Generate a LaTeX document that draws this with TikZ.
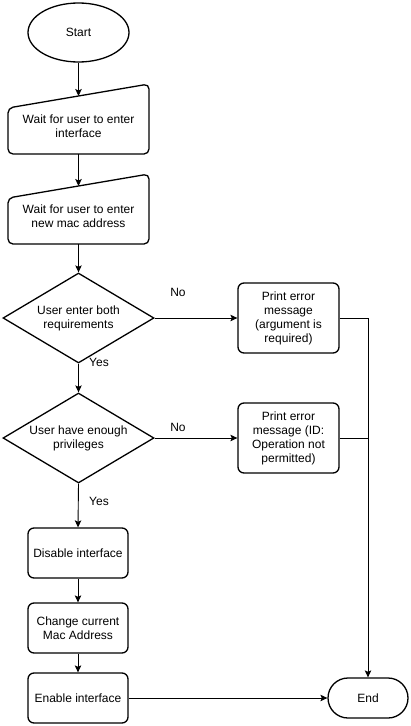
\documentclass[tikz,border=0pt]{standalone}
\usepackage{fontspec}
\setmainfont{Liberation Sans}
\usetikzlibrary{shapes.geometric,arrows.meta}
\begin{document}
\begin{tikzpicture}[x=1pt,y=-1pt,
  font=\fontsize{12}{14}\selectfont,
  shp/.style={draw, line width=1.3pt, align=center, inner sep=0pt},
  proc/.style={shp, rectangle, rounded corners=6pt, minimum width=100pt, minimum height=50pt},
  errbox/.style={shp, rectangle, rounded corners=6pt, minimum width=101pt, minimum height=70pt},
  dec/.style={shp, diamond, minimum width=151pt, minimum height=90pt, aspect=1.68},
  minput/.style={line width=1.3pt, rounded corners=5pt},
  txt/.style={align=center, inner sep=0pt},
  conn/.style={line width=0.9pt, -{Stealth[length=7pt,width=6.5pt,inset=1.5pt]}},
  link/.style={line width=0.9pt}]
\useasboundingbox (0,0) rectangle (411,726);

% Start
\node[shp, ellipse, minimum width=101pt, minimum height=59pt] (start) at (78.5,32.5) {Start};

% Manual input 1
\node[rectangle, minimum width=141pt, minimum height=70pt, inner sep=0pt] (m1) at (78.5,119) {};
\draw[minput] (8,108) -- (149,84) -- (149,154) -- (8,154) -- cycle;
\node[txt] (m1t) at (78.5,126) {Wait for user to enter\\interface};
\coordinate (m1in) at (78.5,96);

% Manual input 2
\node[rectangle, minimum width=141pt, minimum height=70pt, inner sep=0pt] (m2) at (78.5,209) {};
\draw[minput] (8,198) -- (149,174) -- (149,244) -- (8,244) -- cycle;
\node[txt] (m2t) at (78.5,216) {Wait for user to enter\\new mac address};
\coordinate (m2in) at (78.5,186);

% Decisions
\node[dec] (d1) at (78.5,318) {User enter both\\requirements};
\node[dec] (d2) at (78.5,438) {User have enough\\privileges};

% Error boxes
\node[errbox] (e1) at (288.5,318) {Print error\\message\\(argument is\\required)};
\node[errbox] (e2) at (288.5,438) {Print error\\message (ID:\\Operation not\\permitted)};

% Process boxes
\node[proc] (dis) at (78,553) {Disable interface};
\node[proc] (chg) at (78,628) {Change current\\Mac Address};
\node[proc] (ena) at (78,698) {Enable interface};

% End
\node[shp, rectangle, rounded corners=20pt, minimum width=80pt, minimum height=40pt] (end) at (368,698) {End};

% Labels
\node[txt] (no1) at (178,292) {No};
\node[txt] (no2) at (178,427) {No};
\node[txt] (yes1) at (99,362) {Yes};
\node[txt] (yes2) at (99,501) {Yes};

% Connectors
\draw[conn] (start.south) -- (m1in);
\draw[conn] (m1.south) -- (m2in);
\draw[conn] (m2.south) -- (d1.north);
\draw[conn] (d1.south) -- (d2.north);
\draw[conn] (d2.south) -- (dis.north);
\draw[conn] (dis.south) -- (chg.north);
\draw[conn] (chg.south) -- (ena.north);
\draw[conn] (ena.east) -- (end.west);
\draw[conn] (d1.east) -- (e1.west);
\draw[conn] (d2.east) -- (e2.west);
\coordinate (jn) at (368,318);
\draw[link] (e1.east) -- (jn);
\draw[link] (e2.east) -- (e2.east -| jn);
\draw[conn] (jn) -- (end.north);
\end{tikzpicture}
\end{document}
